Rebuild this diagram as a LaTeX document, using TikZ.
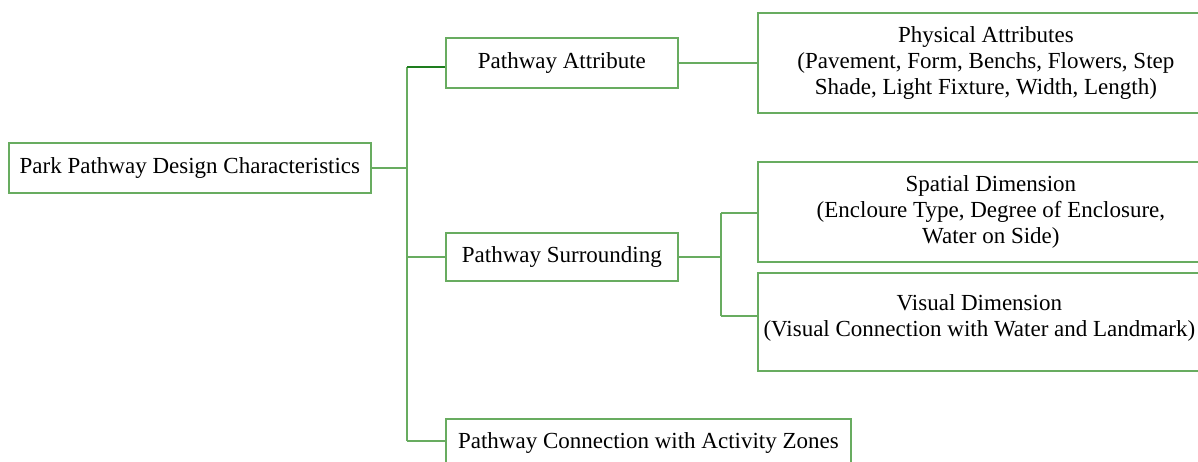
\documentclass[tikz,border=0pt]{standalone}
\usepackage{fontspec}
\setmainfont{Liberation Serif}
\usetikzlibrary{calc}
\definecolor{boxgreen}{RGB}{104,172,96}
\definecolor{darkgreen}{RGB}{30,125,30}
\begin{document}
\begin{tikzpicture}[x=1pt,y=-1pt,
  box/.style={draw=boxgreen, line width=1.8pt, inner sep=0pt, align=center,
    font=\fontsize{23}{26}\selectfont, anchor=north west},
  txt/.style={inner sep=0pt, align=center, font=\fontsize{23}{26}\selectfont},
  conn/.style={draw=boxgreen, line width=1.8pt}]
\useasboundingbox (0,0) rectangle (1198,461);
\clip (0,0) rectangle (1198,461);
% nodes
\node[box, minimum width=362pt, minimum height=50pt] (root) at (8,142) {Park Pathway Design Characteristics};
\node[box, minimum width=232pt, minimum height=50pt] (pa) at (445,37) {Pathway Attribute};
\node[box, minimum width=232pt, minimum height=48pt] (ps) at (445,232) {Pathway Surrounding};
\node[box, minimum width=405pt, minimum height=48pt] (pc) at (445,418) {Pathway Connection with Activity Zones};
\node[box, minimum width=456pt, minimum height=100pt] (ph) at (757,12) {Physical Attributes\\(Pavement, Form, Benchs, Flowers, Step\\Shade, Light Fixture, Width, Length)};
\node[box, minimum width=466pt, minimum height=100pt] (sp) at (757,161) {Spatial Dimension\\(Encloure Type, Degree of Enclosure,\\Water on Side)};
\node[box, minimum width=443pt, minimum height=98pt] (vi) at (757,272) {};
\node[txt] (vit) at ($(vi.center)+(0,-4)$) {Visual Dimension\\(Visual Connection with Water and Landmark)};
% connectors
\coordinate (bt) at (407,67);
\coordinate (bb) at (407,441);
\coordinate (st) at (721,213);
\coordinate (sb) at (721,316);
\draw[conn] (bt) -- (bb);
\draw[conn, draw=darkgreen] (bt) -- (pa.west |- bt);
\draw[conn] (root.east) -- (root.east -| bt);
\draw[conn] (ps.west) -- (ps.west -| bt);
\draw[conn] (bb) -- (pc.west |- bb);
\draw[conn] (pa.east) -- (ph.west);
\draw[conn] (st) -- (sb);
\draw[conn] (ps.east) -- (ps.east -| st);
\draw[conn] (st) -- (sp.west |- st);
\draw[conn] (sb) -- (vi.west |- sb);
\end{tikzpicture}
\end{document}
